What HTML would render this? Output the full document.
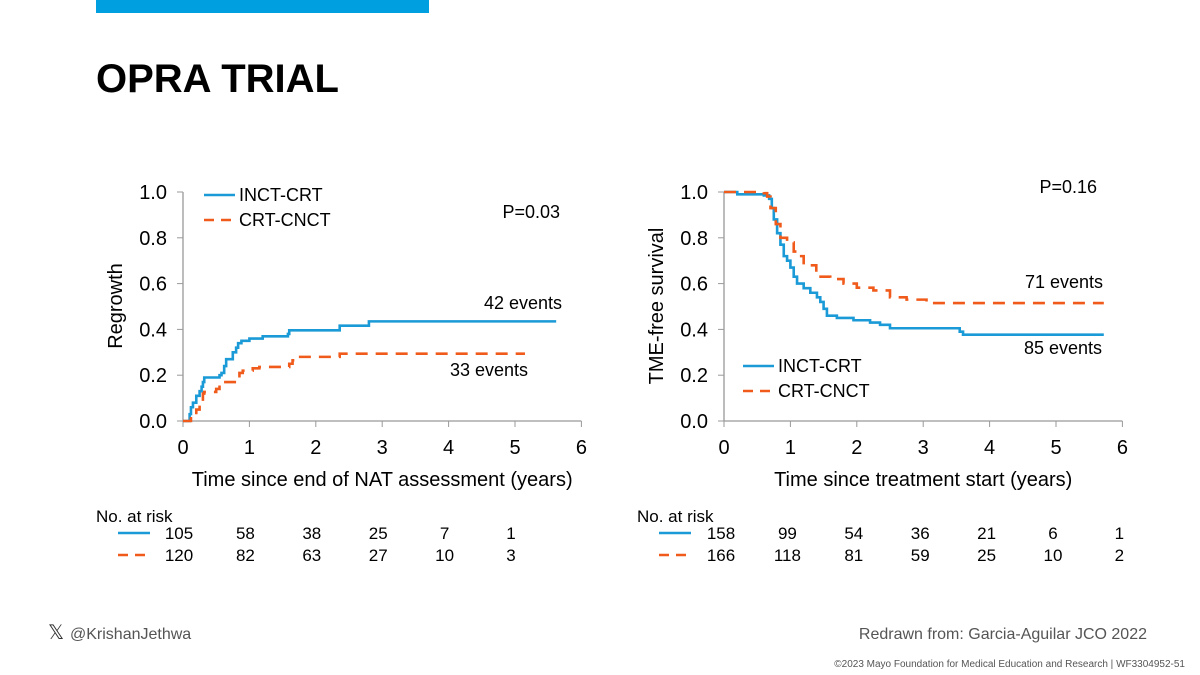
<!DOCTYPE html>
<html><head><meta charset="utf-8"><style>
body{margin:0;background:#fff;}
svg{display:block;font-family:"Liberation Sans",Arial,sans-serif;}
</style></head><body>
<svg width="1200" height="675" viewBox="0 0 1200 675">
<rect x="96" y="0" width="333" height="13" fill="#009fdf"/>
<text x="96" y="92" font-size="40" font-weight="bold" fill="#000">OPRA TRIAL</text>
<g id="left"></g>
<g id="right"></g>
<g id="risk"></g>
<text x="48" y="639" font-size="20" fill="#333">𝕏</text>
<text x="70" y="639" font-size="16" fill="#555">@KrishanJethwa</text>
<text x="1147" y="639" font-size="16" fill="#555" text-anchor="end">Redrawn from: Garcia-Aguilar JCO 2022</text>
<text x="1185" y="667" font-size="10" fill="#555" text-anchor="end">©2023 Mayo Foundation for Medical Education and Research  |  WF3304952-51</text>
</svg>
<script>
const yTicks=[0,0.2,0.4,0.6,0.8,1.0];
const xTicks=[0,1,2,3,4,5,6];
const leftIncT=[0,0.1,0.12,0.15,0.2,0.25,0.28,0.3,0.32,0.55,0.58,0.62,0.65,0.75,0.8,0.83,0.88,1.0,1.2,1.58,1.6,2.36,2.8,5.62];
const leftIncV=[0,0.03,0.06,0.08,0.11,0.13,0.15,0.17,0.19,0.2,0.21,0.24,0.27,0.30,0.32,0.34,0.35,0.36,0.37,0.38,0.396,0.416,0.435,0.435];
const leftCrtT=[0,0.12,0.2,0.25,0.3,0.32,0.5,0.55,0.8,0.85,0.9,1.05,1.15,1.6,1.65,1.7,2.36,5.15];
const leftCrtV=[0,0.02,0.05,0.08,0.12,0.127,0.14,0.17,0.18,0.21,0.22,0.23,0.236,0.25,0.265,0.28,0.294,0.294];
const rightIncT=[0,0.2,0.6,0.68,0.72,0.75,0.8,0.85,0.9,0.95,1.0,1.05,1.1,1.2,1.3,1.4,1.45,1.5,1.55,1.7,1.95,2.2,2.35,2.5,3.55,3.6,5.72];
const rightIncV=[1,0.99,0.985,0.97,0.93,0.88,0.82,0.77,0.72,0.70,0.67,0.63,0.60,0.58,0.56,0.54,0.52,0.49,0.46,0.45,0.44,0.43,0.42,0.405,0.39,0.377,0.377];
const rightCrtT=[0,0.6,0.65,0.7,0.78,0.85,0.95,1.05,1.1,1.2,1.39,1.6,1.8,2.0,2.25,2.5,2.75,3.05,5.72];
const rightCrtV=[1,0.995,0.98,0.93,0.86,0.80,0.78,0.74,0.72,0.68,0.63,0.62,0.60,0.582,0.57,0.54,0.53,0.515,0.515];
const riskLeftInc=[105,58,38,25,7,1];
const riskLeftCrt=[120,82,63,27,10,3];
const riskRightInc=[158,99,54,36,21,6,1];
const riskRightCrt=[166,118,81,59,25,10,2];
const NS='http://www.w3.org/2000/svg';
const BLUE='#1a9ad6',ORANGE='#f05a1a';
function mk(p,tag,attrs,txt){const e=document.createElementNS(NS,tag);for(const k in attrs)e.setAttribute(k,attrs[k]);if(txt!==undefined)e.textContent=txt;p.appendChild(e);return e;}
function chart(g,x0,xTitle,yTitle,series){
  const X=t=>x0+t*66.4, Y=v=>421-v*229;
  const ax=mk(g,'path',{d:`M${x0} 192V421H${X(6)}`,stroke:'#999',fill:'none','stroke-width':1.3});
  
  yTicks.forEach(v=>{mk(g,'line',{x1:x0-6,x2:x0,y1:Y(v),y2:Y(v),stroke:'#999'});
    const t=mk(g,'text',{x:x0-16,y:Y(v)+7,'font-size':20,'text-anchor':'end'},v.toFixed(1));
    });
  xTicks.forEach(v=>{mk(g,'line',{x1:X(v),x2:X(v),y1:421,y2:427,stroke:'#999'});
    const t=mk(g,'text',{x:X(v),y:454,'font-size':20,'text-anchor':'middle'},v);
    });
  const xt=mk(g,'text',{x:X(3),y:486,'font-size':20,'text-anchor':'middle'},xTitle);
  
  const yt=mk(g,'text',{x:0,y:0,'font-size':20,'text-anchor':'middle',transform:`translate(${x0-61},306) rotate(-90)`},yTitle);
  
  series.forEach(s=>{let d=`M${X(s.t[0])} ${Y(s.v[0])}`;
    for(let i=1;i<s.t.length;i++){d+=`H${X(s.t[i])}V${Y(s.v[i])}`;}
    const p=mk(g,'path',{d,stroke:s.c,fill:'none','stroke-width':2.6,'stroke-dasharray':s.dash||'none'});
    });
  return {X,Y};
}
const L=document.getElementById('left'),R=document.getElementById('right');
chart(L,183,'Time since end of NAT assessment (years)','Regrowth',[
 {t:leftIncT,v:leftIncV,c:BLUE,name:'incT-crt-curve'},{t:leftCrtT,v:leftCrtV,c:ORANGE,dash:'12 8',name:'crt-cnct-curve'}]);
chart(R,724,'Time since treatment start (years)','TME-free survival',[
 {t:rightIncT,v:rightIncV,c:BLUE,name:'incT-crt-curve'},{t:rightCrtT,v:rightCrtV,c:ORANGE,dash:'12 8',name:'crt-cnct-curve'}]);
function legend(g,x,y){
  mk(g,'line',{x1:x,x2:x+31,y1:y,y2:y,stroke:BLUE,'stroke-width':2.6});
  const a=mk(g,'text',{x:x+35,y:y+6,'font-size':18},'INCT-CRT');
  mk(g,'line',{x1:x,x2:x+31,y1:y+25,y2:y+25,stroke:ORANGE,'stroke-width':2.6,'stroke-dasharray':'10 7'});
  const b=mk(g,'text',{x:x+35,y:y+31,'font-size':18},'CRT-CNCT');
}
legend(L,204,195);legend(R,743,366);
function lab(g,x,y,s,anchor,name,fs){const t=mk(g,'text',{x,y,'font-size':fs||17,'text-anchor':anchor||'start'},s);}
lab(L,560,218,'P=0.03','end','p-value',18);lab(L,562,309,'42 events','end','event-label',18);lab(L,528,376,'33 events','end','event-label',18);
lab(R,1097,193,'P=0.16','end','p-value',18);lab(R,1103,288,'71 events','end','event-label',18);lab(R,1102,354,'85 events','end','event-label',18);
const K=document.getElementById('risk');
function risk(x0,xs,inc,crt){
  lab(K,x0,522,'No. at risk','start','risk-table-title');
  mk(K,'line',{x1:x0+22,x2:x0+54,y1:533,y2:533,stroke:BLUE,'stroke-width':2.6});
  mk(K,'line',{x1:x0+22,x2:x0+54,y1:555,y2:555,stroke:ORANGE,'stroke-width':2.6,'stroke-dasharray':'10 7'});
  inc.forEach((n,i)=>lab(K,xs+i*66.4,539,n,'middle','risk-count-incT'));
  crt.forEach((n,i)=>lab(K,xs+i*66.4,561,n,'middle','risk-count-crt'));
}
risk(96,179,riskLeftInc,riskLeftCrt);
risk(637,721,riskRightInc,riskRightCrt);
</script>
</body></html>
